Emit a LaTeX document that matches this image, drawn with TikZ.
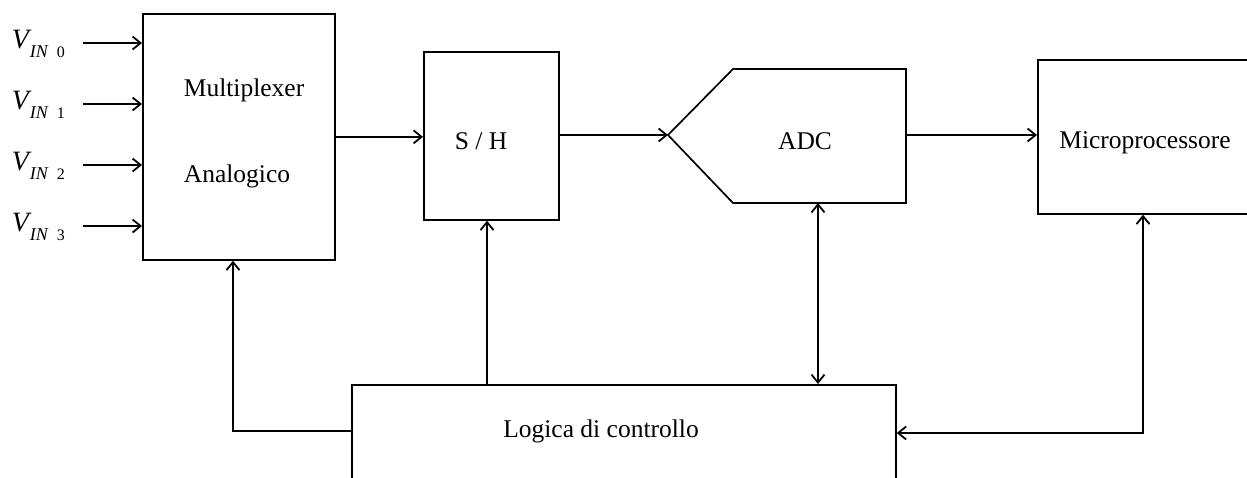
\documentclass[tikz,border=0pt]{standalone}
\usepackage{fontspec}
\setmainfont{Liberation Serif}
\usetikzlibrary{arrows.meta}
\begin{document}
\begin{tikzpicture}[x=1pt,y=-1pt,
  line width=1.7pt,
  blk/.style={draw,line width=1.7pt,inner sep=0pt,anchor=north west},
  lbl/.style={inner sep=0pt,font=\fontsize{25.5}{30}\selectfont},
  arr/.style={-{Straight Barb[length=8pt,width=13pt,line width=1.8pt]}},
  darr/.style={{Straight Barb[length=8pt,width=13pt,line width=1.8pt]}-{Straight Barb[length=8pt,width=13pt,line width=1.8pt]}},
  vin/.style={inner sep=0pt,anchor=base west}]
\useasboundingbox (0,0) rectangle (1247,477);
\clip (0,0) rectangle (1247,477);
\fill[white] (0,0) rectangle (1247,477);

% blocks
\node[blk,minimum width=192pt,minimum height=246pt] (mux) at (142,13) {};
\node[blk,minimum width=135pt,minimum height=168pt] (sh) at (423,51) {};
\node[blk,minimum width=240pt,minimum height=154pt] (micro) at (1037,59) {};
\node[blk,minimum width=544pt,minimum height=120pt] (logic) at (351,384) {};
\coordinate (adcTip) at (668,135);
\coordinate (adcR) at (906,135);
\coordinate (adcB) at (818,203);
\draw (adcTip) -- (733,69) -- (906,69) -- (906,203) -- (733,203) -- cycle;

% texts
\node[lbl,anchor=west] (tmux1) at (183,90) {Multiplexer};
\node[lbl,anchor=west] (tmux2) at (183,176) {Analogico};
\node[lbl] (tsh) at (481,141) {S / H};
\node[lbl] (tadc) at (805,141) {ADC};
\node[lbl] (tmicro) at (1145,143) {Microprocessore};
\node[lbl] (tlogic) at (601,431) {Logica di controllo};

% inputs
\foreach \i/\y in {0/43,1/104,2/165,3/226}{
  \node[vin] (v\i) at (11,\y+5) {\fontsize{28}{30}\selectfont\itshape V\kern1pt\raisebox{-9pt}{\fontsize{18}{20}\selectfont\itshape IN\kern9pt\upshape\fontsize{16}{18}\selectfont\i}};
  \coordinate (i\i) at (83,\y);
  \draw[arr] (i\i) -- (i\i -| mux.west);
}

% signal path
\draw[arr] (mux.east) -- (mux.east -| sh.west);
\draw[arr] (sh.east |- adcTip) -- (adcTip);
\draw[arr] (adcR) -- (adcR -| micro.west);

% control
\coordinate (m1) at (233,431);
\draw[arr] (m1 -| logic.west) -- (m1) -- (m1 |- mux.south);
\coordinate (s1) at (487,384);
\draw[arr] (s1) -- (s1 |- sh.south);
\draw[darr] (adcB) -- (adcB |- logic.north);
\coordinate (p1) at (1143,433);
\draw[darr] (p1 -| logic.east) -- (p1) -- (p1 |- micro.south);
\end{tikzpicture}
\end{document}
